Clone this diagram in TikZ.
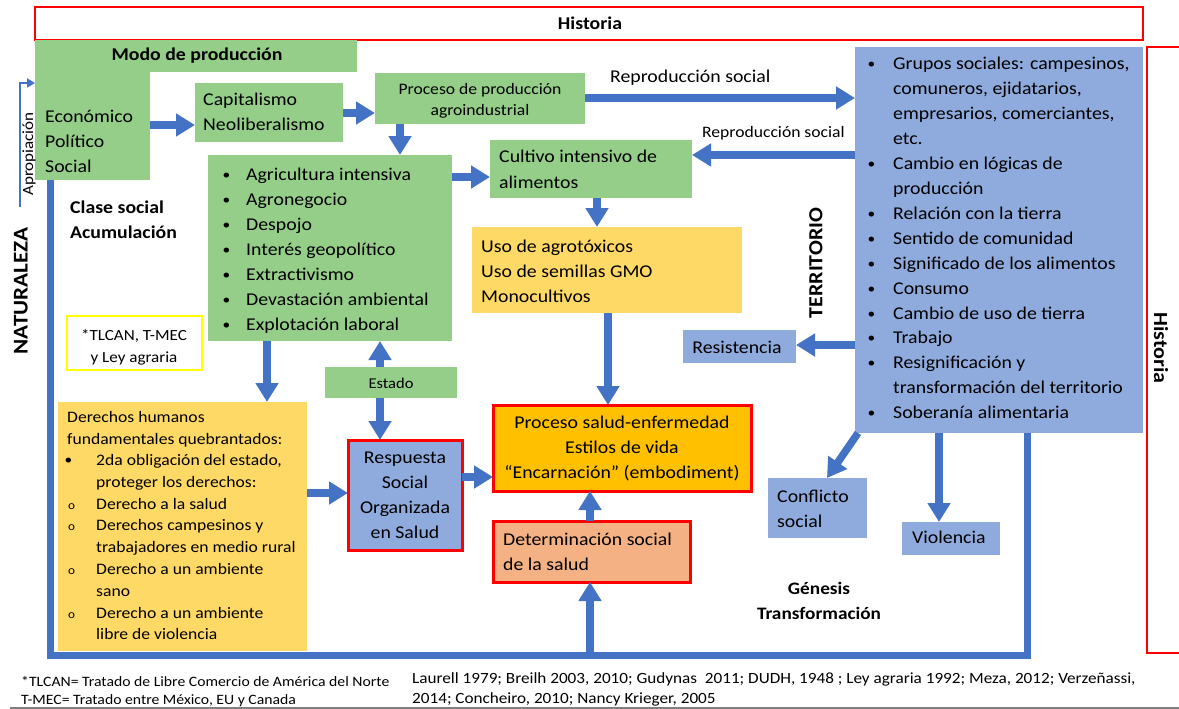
\documentclass[tikz,border=0pt]{standalone}
\usepackage{fontspec}
\setmainfont{Carlito}[FakeStretch=1.1]
\usetikzlibrary{arrows.meta}
\definecolor{cgreen}{RGB}{148,206,136}
\definecolor{cyellow}{RGB}{255,217,102}
\definecolor{cblue}{RGB}{143,170,220}
\definecolor{corange}{RGB}{255,192,0}
\definecolor{csalmon}{RGB}{244,177,131}
\definecolor{carrow}{RGB}{68,114,196}
\definecolor{cred}{RGB}{255,0,0}
\definecolor{cyel}{RGB}{255,255,0}
\newcommand\myfs[1]{\fontsize{#1}{#1}\selectfont}
\newcommand\mybul[1]{\llap{\raisebox{1pt}{\myfs{14}\textbullet}\hspace{#1}}}
\newcommand\myo{\llap{{\myfs{12}o}\hspace{21pt}}}
\begin{document}
\begin{tikzpicture}[x=1pt,y=-1pt,
  box/.style={anchor=north west, inner sep=0pt, outer sep=0pt},
  gbox/.style={box, fill=cgreen},
  ybox/.style={box, fill=cyellow},
  bbox/.style={box, fill=cblue},
  redframe/.style={draw=cred, line width=3pt},
  arr/.style={draw=carrow, line width=7.5pt, -{Triangle[width=22pt,length=19pt]}},
  thinarr/.style={draw=carrow, line width=2.5pt, -{Triangle[width=9pt,length=8pt]}},
  frame/.style={draw=carrow, line width=7pt},
  txt/.style={inner sep=0pt, anchor=base west, font=\myfs{18}},
  btxt/.style={inner sep=0pt, anchor=base, font=\bfseries\myfs{18}},
]
\fill[white] (0,0) rectangle (1179,709);
\useasboundingbox (0,0) rectangle (1179,709);

% frames
\node[box, draw=cred, line width=2.5pt, minimum width=1108pt, minimum height=33pt] (histT) at (35,7) {};
\node[box, draw=cred, line width=2.5pt, minimum width=50pt, minimum height=606pt] (histR) at (1147,47) {};

% boxes
\node[gbox, minimum width=322pt, minimum height=32pt] (modo) at (35,40) {};
\node[gbox, minimum width=115pt, minimum height=140pt] (econ) at (35,40) {};
\node[gbox, minimum width=148pt, minimum height=59pt] (cap) at (195,83) {};
\node[gbox, minimum width=210pt, minimum height=51pt] (proc) at (375,73) {};
\node[gbox, minimum width=244pt, minimum height=186pt] (agri) at (208,155) {};
\node[gbox, minimum width=202pt, minimum height=58pt] (cult) at (490,140) {};
\node[ybox, minimum width=270pt, minimum height=86pt] (uso) at (472,227) {};
\node[box, fill=corange, redframe, minimum width=258pt, minimum height=86pt] (psalud) at (493,405) {};
\node[box, fill=csalmon, redframe, minimum width=197pt, minimum height=61pt] (dsalud) at (493,521) {};
\node[bbox, minimum width=113pt, minimum height=33pt] (resist) at (683,330) {};
\node[bbox, minimum width=288pt, minimum height=386pt] (lista) at (855,47) {};
\node[bbox, minimum width=99pt, minimum height=60pt] (confl) at (768,478) {};
\node[bbox, minimum width=98pt, minimum height=33pt] (viol) at (902,522) {};
\node[gbox, minimum width=132pt, minimum height=31pt] (estado) at (325,367) {};
\node[box, fill=cblue, redframe, minimum width=114pt, minimum height=110pt] (resp) at (348,440) {};
\node[ybox, minimum width=249pt, minimum height=249pt] (derechos) at (58,402) {};
\node[box, fill=white, draw=cyel, line width=2.5pt, minimum width=135pt, minimum height=54pt] (tlcan) at (67,316) {};

% big frame line
\coordinate (fBL) at (50,655);
\coordinate (fBR) at (1027,655);
\draw[frame] (econ.south -| 50,0) -- (fBL) -- (fBR) -- (lista.south -| fBR);

% apropiacion
\coordinate (apS) at (20,207);
\draw[thinarr] (apS) |- (econ.west |- 0,83);

% arrows
\draw[arr] (econ.east |- 0,125) -- (cap.west |- 0,125);
\draw[arr] (cap.east |- 0,113) -- (proc.west |- 0,113);
\draw[arr] (proc.east |- 0,98) -- (lista.west |- 0,98);
\draw[arr] (lista.west |- 0,155) -- (cult.east |- 0,155);
\draw[arr] (proc.south -| 400,0) -- (agri.north -| 400,0);
\draw[arr] (agri.east |- 0,177) -- (cult.west |- 0,177);
\draw[arr] (cult.south -| 597,0) -- (uso.north -| 597,0);
\draw[arr] (uso.south -| 608,0) -- (psalud.north -| 608,0);
\draw[arr] (lista.west |- 0,345) -- (resist.east |- 0,345);
\draw[arr] (lista.south -| 858,0) -- (confl.north -| 827,0);
\draw[arr] (lista.south -| 939,0) -- (viol.north -| 939,0);
\draw[arr] (dsalud.north -| 590,0) -- (psalud.south -| 590,0);
\draw[arr] (fBL -| 590,0) -- (dsalud.south -| 590,0);
\draw[arr] (agri.south -| 267,0) -- (derechos.north -| 267,0);
\draw[arr] (estado.north -| 380,0) -- (agri.south -| 380,0);
\draw[arr] (estado.south -| 380,0) -- (resp.north -| 380,0);
\draw[arr] (derechos.east |- 0,493) -- (resp.west |- 0,493);
\draw[arr] (resp.east |- 0,477) -- (psalud.west |- 0,477);

% texts
\node[btxt] (histTt) at (590,30) {Historia};
\node[inner sep=0pt, font=\bfseries\myfs{20}, rotate=-90] (histRt) at (1161,348) {Historia};
\node[btxt] (modot) at (197,61) {Modo de producción};
\foreach \t [count=\i from 0] in {Económico,Político,Social}
  \node[txt] (econt\i) at (45,{122+25*\i}) {\t};
\node[inner sep=0pt, font=\myfs{15.5}, rotate=90] (apt) at (29,154) {Apropiación};
\node[inner sep=0pt, font=\bfseries\myfs{21}, rotate=90] (natt) at (21,291) {NATURALEZA};
\node[txt, font=\bfseries\myfs{18}] (clase1) at (70,213) {Clase social};
\node[txt, font=\bfseries\myfs{18}] (clase2) at (70,238) {Acumulación};
\node[txt] (capt1) at (203,106) {Capitalismo};
\node[txt] (capt2) at (203,130) {Neoliberalismo};
\node[txt, anchor=base, font=\myfs{16}] (proct1) at (480,95) {Proceso de producción};
\node[txt, anchor=base, font=\myfs{16}] (proct2) at (480,115) {agroindustrial};
\node[txt] (rep1) at (610,83) {Reproducción social};
\node[txt, font=\myfs{16}] (rep2) at (702,137) {Reproducción social};
\foreach \t [count=\i from 0] in {Agricultura intensiva,Agronegocio,Despojo,Interés geopolítico,Extractivismo,Devastación ambiental,Explotación laboral}
  \node[txt] (agrit\i) at (246,{180+25*\i}) {\mybul{16pt}\t};
\node[txt] (cultt1) at (499,162) {Cultivo intensivo de};
\node[txt] (cultt2) at (499,188) {alimentos};
\foreach \t [count=\i from 0] in {Uso de agrotóxicos,Uso de semillas GMO,Monocultivos}
  \node[txt] (usot\i) at (481,{252+25*\i}) {\t};
\node[inner sep=0pt, font=\bfseries\myfs{20}, rotate=90] (terrt) at (816,263) {TERRITORIO};
\node[txt, anchor=base] (resistt) at (737,353) {Resistencia};
\foreach \t [count=\i from 0] in {{\mybul{18pt}Grupos sociales: campesinos,},{comuneros, ejidatarios,},{empresarios, comerciantes,},etc.,\mybul{18pt}Cambio en lógicas de,producción,\mybul{18pt}Relación con la tierra,\mybul{18pt}Sentido de comunidad,\mybul{18pt}Significado de los alimentos,\mybul{18pt}Consumo,\mybul{18pt}Cambio de uso de tierra,\mybul{18pt}Trabajo,\mybul{18pt}Resignificación y,transformación del territorio,\mybul{18pt}Soberanía alimentaria}
  \node[txt] (listat\i) at (893,{70+24.9*\i}) {\t};
\node[txt, anchor=base] (ps1) at (622,428) {Proceso salud-enfermedad};
\node[txt, anchor=base] (ps2) at (622,453) {Estilos de vida};
\node[txt, anchor=base] (ps3) at (622,478) {“Encarnación” (embodiment)};
\node[txt] (ds1) at (503,545) {Determinación social};
\node[txt] (ds2) at (503,570) {de la salud};
\node[txt] (cf1) at (777,502) {Conflicto};
\node[txt] (cf2) at (777,527) {social};
\node[txt] (violt) at (912,543) {Violencia};
\node[btxt, font=\bfseries\myfs{17.5}] (gen1) at (819,594) {Génesis};
\node[btxt, font=\bfseries\myfs{17.5}] (gen2) at (819,619) {Transformación};
\foreach \t [count=\i from 0] in {Respuesta,Social,Organizada,en Salud}
  \node[txt, anchor=base] (respt\i) at (405,{463+25*\i}) {\t};
\node[txt, anchor=base, font=\myfs{15}] (estadot) at (391,388) {Estado};
\node[txt, anchor=base, font=\myfs{15.5}] (tl1) at (134,340) {*TLCAN, T-MEC};
\node[txt, anchor=base, font=\myfs{15.5}] (tl2) at (134,362) {y Ley agraria};
\node[txt, font=\myfs{16}] (dh1) at (67,422) {Derechos humanos};
\node[txt, font=\myfs{16}] (dh2) at (67,444) {fundamentales quebrantados:};
\foreach \t [count=\i from 0] in {{\mybul{24pt}2da obligación del estado,},proteger los derechos:,\myo Derecho a la salud,\myo Derechos campesinos y,trabajadores en medio rural,\myo Derecho a un ambiente,sano,\myo Derecho a un ambiente,libre de violencia}
  \node[txt, font=\myfs{16}] (dht\i) at (96,{465.5+21.8*\i}) {\t};

% footer
\coordinate (gL) at (10,708);
\coordinate (gR) at (1179,708);
\draw[gray, line width=1.5pt] (gL) -- (gR);
\node[txt, font=\myfs{14.3}] (n1) at (21,686) {*TLCAN= Tratado de Libre Comercio de América del Norte};
\node[txt, font=\myfs{14.3}] (n2) at (21,704) {T-MEC= Tratado entre México, EU y Canada};
\node[txt, font=\myfs{15.6}] (r1) at (412,683) {Laurell 1979; Breilh 2003, 2010; Gudynas\ \ 2011; DUDH, 1948 ; Ley agraria 1992; Meza, 2012; Verzeñassi,};
\node[txt, font=\myfs{15.6}] (r2) at (412,703) {2014; Concheiro, 2010; Nancy Krieger, 2005};
\end{tikzpicture}
\end{document}
